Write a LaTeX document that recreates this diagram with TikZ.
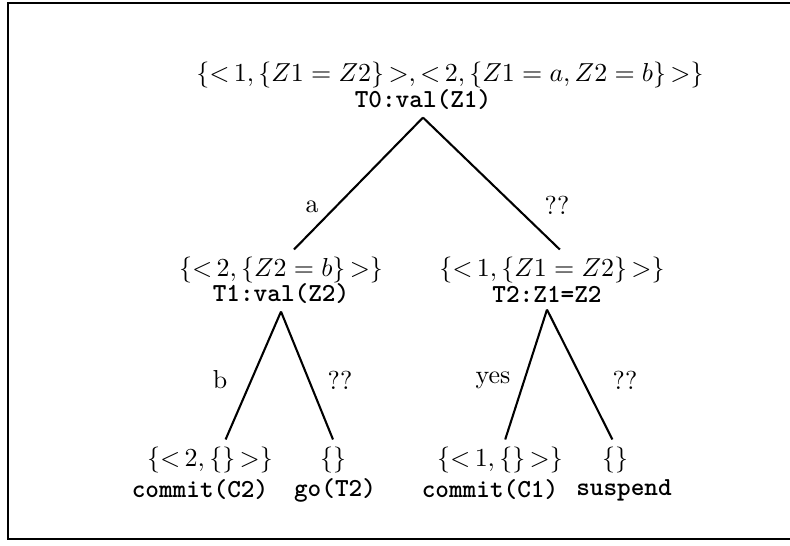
\documentclass[tikz,border=0pt]{standalone}
\usetikzlibrary{positioning}

\newcommand\opn{{<}\,}
\newcommand\cls{\,{>}}

\begin{document}
\begin{tikzpicture}[
    x=0.385pt, y=-0.385pt,
    setnode/.style={inner sep=2.7pt},
    goalnode/.style={inner sep=2.7pt, font=\ttfamily\bfseries},
    branch/.style={-, line width=0.8pt},
    choice/.style={inner sep=0pt}
]
    \useasboundingbox (0,0) rectangle (790,545);
    % moldura (o lado direito sai da pagina)
    \draw[line width=1.1pt] (800,3) -- (8,3) -- (8,539) -- (800,539);

    % Raiz
    \node[setnode] (s0) at (450,75) {$\{\opn 1,\{Z1=Z2\}\cls,\opn 2,\{Z1=a,Z2=b\}\cls\}$};
    \node[goalnode] (g0) at (423,100) {T0:val(Z1)};

    % Nivel 1
    \node[setnode] (s1) at (281,270) {$\{\opn 2,\{Z2=b\}\cls\}$};
    \node[goalnode] (g1) at (281,294) {T1:val(Z2)};
    \node[setnode] (s2) at (552,270) {$\{\opn 1,\{Z1=Z2\}\cls\}$};
    \node[goalnode] (g2) at (547,294) {T2:Z1=Z2};

    % Folhas
    \node[setnode] (s3) at (210,460) {$\{\opn 2,\{\}\cls\}$};
    \node[goalnode] (g3) at (200,490) {commit(C2)};
    \node[setnode] (s4) at (333,460) {$\{\}$};
    \node[goalnode] (g4) at (335,490) {go(T2)};
    \node[setnode] (s5) at (500,460) {$\{\opn 1,\{\}\cls\}$};
    \node[goalnode] (g5) at (490,490) {commit(C1)};
    \node[setnode] (s6) at (615,460) {$\{\}$};
    \node[goalnode] (g6) at (624,490) {suspend};

    % Ramos
    \draw[branch] (g0.south) -- ([xshift=5pt]s1.north);
    \draw[branch] (g0.south) -- ([xshift=3pt]s2.north);
    \draw[branch] (g1.south) -- ([xshift=6pt]s3.north);
    \draw[branch] (g1.south) -- (s4.north);
    \draw[branch] (g2.south) -- ([xshift=2pt]s5.north);
    \draw[branch] (g2.south) -- ([xshift=-1pt]s6.north);

    % Rotulos dos ramos
    \node[choice] (la) at (312,207) {a};
    \node[choice] (lq0) at (557,205) {??};
    \node[choice] (lb) at (220,380) {b};
    \node[choice] (lq1) at (340,380) {??};
    \node[choice] (ly) at (493,380) {yes};
    \node[choice] (lq2) at (625,380) {??};

\end{tikzpicture}
\end{document}
